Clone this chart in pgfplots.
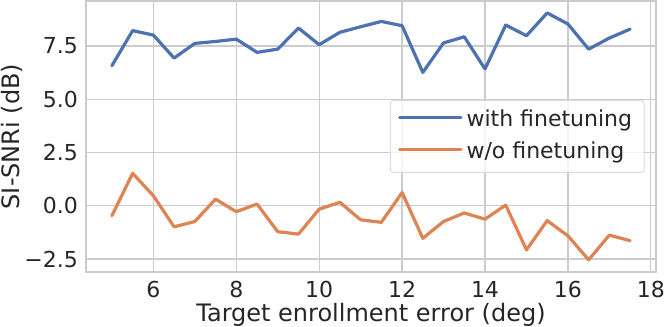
\documentclass[border=0pt]{standalone}
\usepackage{fontspec}
\setmainfont{DejaVu Sans}
\usepackage{pgfplots}
\pgfplotsset{compat=1.18}

\definecolor{sbblue}{RGB}{76,114,176}
\definecolor{sborange}{RGB}{221,132,82}
\definecolor{gridgray}{RGB}{204,204,204}
\definecolor{txt}{RGB}{38,38,38}

\begin{document}
\begin{tikzpicture}
\begin{axis}[
    at={(0,0)}, anchor=south west,
    width=570bp, height=271bp, scale only axis,
    xmin=4.375, xmax=18.125,
    ymin=-3.11, ymax=9.61,
    xtick={6,8,10,12,14,16,18},
    xticklabels={6,8,10,12,14,16,18},
    ytick={-2.5,0,2.5,5,7.5},
    yticklabels={−2.5,0.0,2.5,5.0,7.5},
    major tick length=0pt,
    grid=major,
    major grid style={gridgray, line width=1.2bp},
    axis line style={gridgray, line width=1.2bp},
    tick label style={font=\fontsize{22bp}{26bp}\selectfont, text=txt, inner sep=0pt},
    xticklabel style={anchor=base, yshift=-26bp},
    yticklabel style={anchor=east, xshift=-8bp},
    xlabel={Target enrollment error (deg)},
    ylabel={SI-SNRi (dB)},
    label style={font=\fontsize{24bp}{28bp}\selectfont, text=txt, inner sep=0pt},
    xlabel style={at={(axis description cs:0.5,-0.181)}, anchor=base},
    ylabel style={at={(axis description cs:-0.1175,0.5)}, anchor=base},
    legend cell align=left,
    legend image code/.code={
        \draw[#1] (0bp,3bp) -- (48bp,3bp);
        \path (0bp,3bp) -- (61bp,3bp);
    },
    legend style={
        at={(0.98,0.5)}, anchor=east,
        draw={rgb,255:red,218;green,218;blue,218}, line width=1bp,
        rounded corners=3bp,
        fill=white, fill opacity=0.8, text opacity=1,
        inner xsep=8bp, inner ysep=9.2bp, row sep=9.6bp,
        font=\fontsize{22bp}{26bp}\selectfont, text=txt,
        nodes={inner xsep=4bp, inner ysep=0bp, text height=17bp, text depth=5bp},
    },
    every axis plot/.append style={line width=3.2bp, line join=round, line cap=round},
]
\addplot[sbblue] coordinates {
    (5,6.57)(5.5,8.22)(6,8.01)(6.5,6.93)(7,7.62)(7.5,7.71)(8,7.82)(8.5,7.20)
    (9,7.35)(9.5,8.34)(10,7.56)(10.5,8.14)(11,8.40)(11.5,8.65)(12,8.45)
    (12.5,6.26)(13,7.64)(13.5,7.93)(14,6.42)(14.5,8.48)(15,7.98)(15.5,9.05)
    (16,8.53)(16.5,7.35)(17,7.87)(17.5,8.29)
};
\addlegendentry{with finetuning}
\addplot[sborange] coordinates {
    (5,-0.47)(5.5,1.52)(6,0.47)(6.5,-0.99)(7,-0.74)(7.5,0.31)(8,-0.28)(8.5,0.08)
    (9,-1.22)(9.5,-1.33)(10,-0.16)(10.5,0.16)(11,-0.66)(11.5,-0.78)(12,0.62)
    (12.5,-1.53)(13,-0.74)(13.5,-0.34)(14,-0.63)(14.5,0.03)(15,-2.07)(15.5,-0.70)
    (16,-1.41)(16.5,-2.54)(17,-1.38)(17.5,-1.64)
};
\addlegendentry{w/o finetuning}
\end{axis}
\path[use as bounding box] (-86bp,-53bp) rectangle (579bp,272bp);
\end{tikzpicture}
\end{document}
